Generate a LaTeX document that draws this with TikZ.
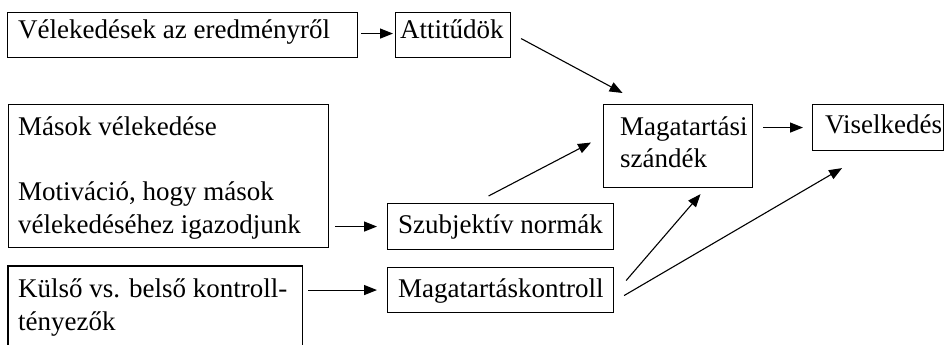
\documentclass[tikz,border=0pt]{standalone}
\usepackage{fontspec}
\setmainfont{Liberation Serif}
\usetikzlibrary{arrows.meta}
\begin{document}
\begin{tikzpicture}[x=1pt,y=-1pt,
  box/.style={draw, line width=1.1pt, inner sep=0pt, anchor=north west},
  frame/.style={inner sep=0pt, anchor=north west},
  lbl/.style={anchor=base west, inner sep=0pt, font=\fontsize{27}{33}\selectfont},
  conn/.style={line width=1.1pt, -{Triangle[length=13pt,width=10pt]}}]
\useasboundingbox (0,0) rectangle (945,345);

% boxes
\node[box, minimum width=350pt, minimum height=45pt] (bel)  at (7,12)   {};
\node[box, minimum width=115pt, minimum height=45pt] (att)  at (395,12) {};
\node[box, minimum width=320pt, minimum height=143pt] (mas) at (8,104)  {};
\node[frame, minimum width=294pt, minimum height=79pt] (kul) at (8,266) {};
\draw[line width=1.1pt] (kul.south west) |- (kul.north east) -- (kul.south east);
\node[box, minimum width=226pt, minimum height=46pt] (szub) at (387,203) {};
\node[box, minimum width=226pt, minimum height=45pt] (kon)  at (387,267) {};
\node[box, minimum width=149pt, minimum height=83pt] (mag)  at (603,104) {};
\node[box, minimum width=131pt, minimum height=46pt] (vis)  at (812,104) {};

% texts
\node[lbl] (tbel)  at (18,39)   {Vélekedések az eredményről};
\node[lbl] (tatt)  at (400,39)  {Attitűdök};
\node[lbl] (tmas1) at (18,135)  {Mások vélekedése};
\node[lbl] (tmas2) at (18,200)  {Motiváció, hogy mások};
\node[lbl] (tmas3) at (18,233)  {vélekedéséhez igazodjunk};
\node[lbl] (tkul1) at (18,297)  {Külső vs. belső kontroll-};
\node[lbl] (tkul2) at (18,330)  {tényezők};
\node[lbl] (tszub) at (398,233) {Szubjektív normák};
\node[lbl] (tkon)  at (398,297) {Magatartáskontroll};
\node[lbl] (tmag1) at (620,135) {Magatartási};
\node[lbl] (tmag2) at (620,167) {szándék};
\node[lbl] (tvis)  at (825,133) {Viselkedés};

% connectors
\draw[conn] ([shift={(3,-1.5)}]bel.east) -- ([shift={(-2,-1.5)}]att.west);
\draw[conn] ([shift={(10,3.5)}]att.east) -- ([shift={(-55.5,-11)}]mag.north);
\draw[conn, shorten <=6pt, shorten >=10pt] (mas.east |- szub.west) -- (szub.west);
\draw[conn, shorten <=6pt, shorten >=10pt] (kul.east |- kon.west) -- (kon.west);
\draw[conn] ([shift={(-12,-7)}]szub.north) -- ([shift={(-12,-3.5)}]mag.west);
\draw[conn] ([shift={(12,-9.5)}]kon.east) -- ([shift={(22.5,6)}]mag.south);
\draw[conn] ([shift={(10,5.5)}]kon.east) -- ([shift={(-36,17)}]vis.south);
\draw[conn, shorten <=10pt, shorten >=9pt] (mag.east |- vis.west) -- (vis.west);
\end{tikzpicture}
\end{document}
